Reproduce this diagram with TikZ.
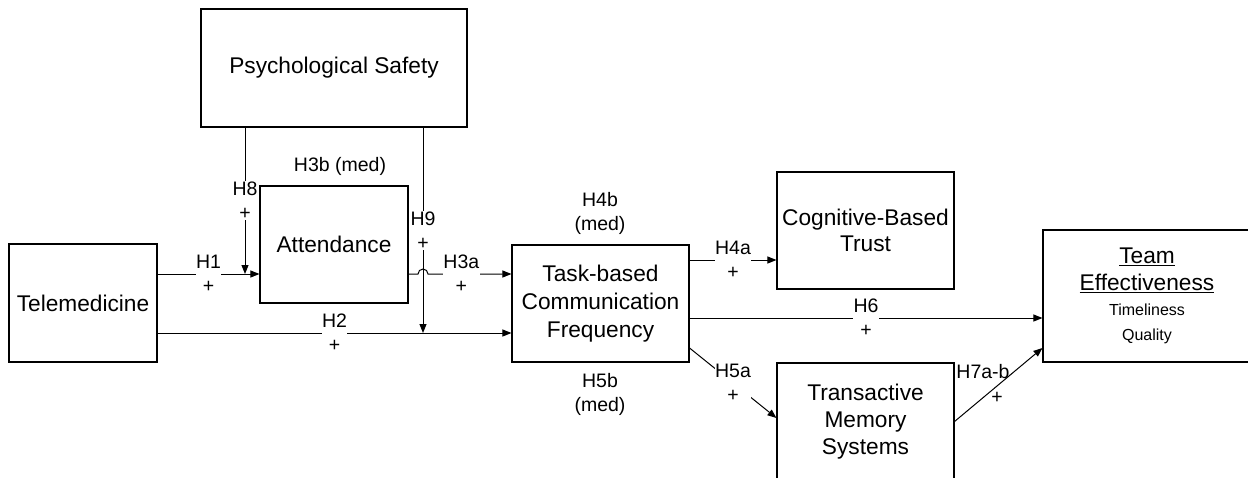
\documentclass[tikz,border=0pt]{standalone}
\usepackage{fontspec}
\setmainfont{Liberation Sans}
\usetikzlibrary{arrows.meta,calc}
\begin{document}
\begin{tikzpicture}[x=1pt,y=-1pt,
  box/.style={draw, line width=1.1pt, inner sep=0pt, align=center,
    font=\fontsize{22.7}{27}\selectfont},
  lbl/.style={font=\fontsize{19.5}{24}\selectfont, align=center, inner sep=0.5pt},
  lblw/.style={lbl, fill=white},
  conn/.style={line width=1pt},
  arr/.style={conn, -{Triangle[length=9pt,width=7pt]}}]
\useasboundingbox (0,0) rectangle (1248,477);

% boxes
\node[box, minimum width=266pt, minimum height=118pt] (ps) at (334,68) {Psychological Safety};
\node[box, minimum width=148pt, minimum height=118pt] (tm) at (83,303) {Telemedicine};
\node[box, minimum width=148pt, minimum height=117pt] (att) at (334,244.5) {Attendance};
\node[box, minimum width=177pt, minimum height=117pt, font=\fontsize{22.7}{28}\selectfont] (task) at (600.5,303.5) {Task-based\\Communication\\Frequency};
\node[box, minimum width=177pt, minimum height=117pt, font=\fontsize{22.7}{26}\selectfont] (cog) at (865.5,230.5) {Cognitive-Based\\Trust};
\node[box, minimum width=177pt, minimum height=117pt] (tms) at (865.5,421.5) {Transactive\\Memory\\Systems};
\node[box, minimum width=240pt, minimum height=132pt] (te) at (1163,296) {};
\node[align=center, inner sep=0pt, font=\fontsize{22.7}{25}\selectfont] (tet) at (1147,296)
  {\underline{Team}\\[2pt]\underline{Effectiveness}\\\fontsize{16}{25}\selectfont Timeliness\\\fontsize{16}{25}\selectfont Quality};

% free labels
\node[lbl] (h3b) at (340,166) {H3b (med)};
\node[lbl] (h4b) at (600,213) {H4b\\(med)};
\node[lbl] (h5b) at (600,394) {H5b\\(med)};

% helper coordinates
\coordinate (h1s) at ([yshift=29pt]tm.east);
\coordinate (h2s) at ([yshift=-30pt]tm.east);
\coordinate (h8t) at ([xshift=-89pt]ps.south);
\coordinate (h9t) at ([xshift=89pt]ps.south);
\coordinate (hop) at (h9t |- h1s);
\coordinate (h4s) at ([yshift=43.5pt]task.east);
\coordinate (h6s) at ([yshift=-14.5pt]task.east);
\coordinate (h5s) at ([yshift=-44.5pt]task.east);

% connectors
\draw[arr] (h1s) -- node[lblw]{H1\\+} (h1s -| att.west);
\draw[arr] (h2s) -- node[lblw]{H2\\+} (h2s -| task.west);
\draw[arr] (h8t) -- node[lblw, pos=0.5]{H8\\+} (h8t |- h1s);
\draw[arr] (h9t) -- node[lblw, pos=0.5]{H9\\+} (h9t |- h2s);
\draw[arr] (h1s -| att.east) -- ([xshift=-5pt]hop) arc[start angle=180, end angle=0, radius=5pt]
   -- node[lblw, pos=0.4]{H3a\\+} (h1s -| task.west);
\draw[arr] (h4s) -- node[lblw]{H4a\\+} (h4s -| cog.west);
\draw[arr] (h6s) -- node[lblw]{H6\\+} (h6s -| te.west);
\draw[arr] (h5s) -- node[lblw]{H5a\\+} ([yshift=3.5pt]tms.west);
\draw[arr] (tms.east) -- node[lbl, xshift=-15.5pt, yshift=13.5pt]{H7a-b}
   node[lbl, xshift=-1.5pt, yshift=-13pt]{+} ([yshift=-52pt]te.west);
\end{tikzpicture}
\end{document}
